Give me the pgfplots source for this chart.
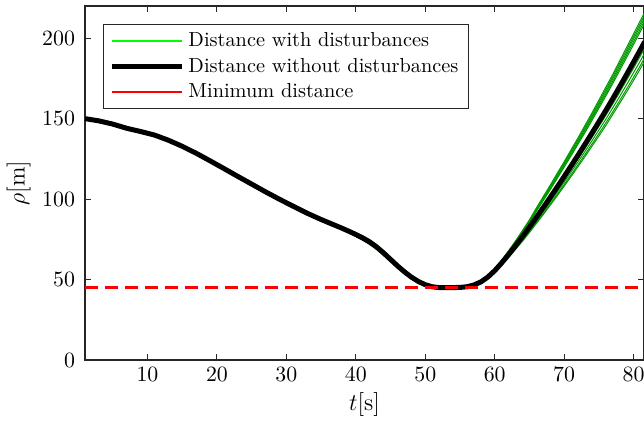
\documentclass[border=0pt]{standalone}
\usepackage{pgfplots}
\usepackage{pgfplotstable}
\pgfplotsset{compat=1.18}
\definecolor{axcol}{rgb}{0.15,0.15,0.15}
\definecolor{dgreen}{rgb}{0.0,0.6,0.0}
\definecolor{lgreen}{rgb}{0.0,1.0,0.0}
\pgfplotstableread{
t b A B C D E F G H I
1 150.0 150.0 150.0 150.0 150.0 150.0 150.0 150.0 150.0 150.0
3 148.6 148.6 148.6 148.6 148.6 148.6 148.6 148.6 148.6 148.6
5 146.6 146.6 146.6 146.6 146.6 146.6 146.6 146.6 146.6 146.6
7 144.0 144.0 144.0 144.0 144.0 144.0 144.0 144.0 144.0 144.0
9 142.0 142.0 142.0 142.0 142.0 142.0 142.0 142.0 142.0 142.0
11 139.8 139.8 139.8 139.8 139.8 139.8 139.8 139.8 139.8 139.8
13 136.6 136.6 136.6 136.6 136.6 136.6 136.6 136.6 136.6 136.6
15 132.8 132.8 132.8 132.8 132.8 132.8 132.8 132.8 132.8 132.8
17 128.5 128.5 128.5 128.5 128.5 128.5 128.5 128.5 128.5 128.5
19 123.8 123.8 123.8 123.8 123.8 123.8 123.8 123.8 123.8 123.8
21 119.0 119.0 119.0 119.0 119.0 119.0 119.0 119.0 119.0 119.0
23 114.1 114.1 114.1 114.1 114.1 114.1 114.1 114.1 114.1 114.1
25 109.3 109.3 109.3 109.3 109.3 109.3 109.3 109.3 109.3 109.3
27 104.5 104.5 104.5 104.5 104.5 104.5 104.5 104.5 104.5 104.5
29 99.9 99.9 99.9 99.9 99.9 99.9 99.9 99.9 99.9 99.9
31 95.5 95.5 95.5 95.5 95.5 95.5 95.5 95.5 95.5 95.5
33 91.2 91.2 91.2 91.2 91.2 91.2 91.2 91.2 91.2 91.2
35 87.3 87.3 87.3 87.3 87.3 87.3 87.3 87.3 87.3 87.3
37 83.7 83.7 83.7 83.7 83.7 83.7 83.7 83.7 83.7 83.7
38 81.9 82.4 81.9 81.9 81.9 81.9 81.9 81.9 81.9 81.4
39 80.0 80.8 80.0 80.0 80.0 80.0 80.0 80.0 80.0 79.2
40 78.0 79.2 78.0 78.0 78.0 78.0 78.0 78.0 78.0 76.8
41 75.8 77.2 75.8 75.8 75.8 75.8 75.8 75.8 75.8 74.4
42 73.3 74.8 73.3 73.3 73.3 73.3 73.3 73.3 73.3 71.8
43 70.2 71.7 70.2 70.2 70.2 70.2 70.2 70.2 70.2 68.7
44 66.5 68.0 66.5 66.5 66.5 66.5 66.5 66.5 66.5 65.0
45 62.5 63.9 62.5 62.5 62.5 62.5 62.5 62.5 62.5 61.1
46 58.5 59.7 58.5 58.5 58.5 58.5 58.5 58.5 58.5 57.3
47 54.8 55.8 54.8 54.8 54.8 54.8 54.8 54.8 54.8 53.8
48 51.5 52.3 51.5 51.5 51.5 51.5 51.5 51.5 51.5 50.7
49 48.8 49.4 48.8 48.8 48.8 48.8 48.8 48.8 48.8 48.2
50 46.8 47.1 46.8 46.8 46.8 46.8 46.8 46.8 46.8 46.5
51 45.5 45.5 45.5 45.5 45.5 45.5 45.5 45.5 45.5 45.5
52 45.0 45.0 45.0 45.0 45.0 45.0 45.0 45.0 45.0 45.0
53 45.0 45.0 45.0 45.0 45.0 45.0 45.0 45.0 45.0 45.0
54 45.0 45.0 45.0 45.0 45.0 45.0 45.0 45.0 45.0 45.0
55 45.1 45.1 45.1 45.1 45.1 45.1 45.1 45.1 45.1 45.1
56 45.5 45.5 45.5 45.5 45.5 45.5 45.5 45.5 45.5 45.5
57 46.6 46.6 46.6 46.6 46.6 46.6 46.6 46.6 46.6 46.6
58 48.5 48.5 48.5 48.5 48.5 48.5 48.5 48.5 48.5 48.5
59 51.5 51.9 51.9 51.8 51.8 51.7 51.4 51.3 51.2 51.1
60 55.5 56.6 56.5 56.4 56.3 56.2 55.2 55.0 54.8 54.7
61 60.3 62.0 61.9 61.7 61.5 61.4 59.9 59.5 59.2 59.0
62 65.5 67.9 67.7 67.5 67.2 67.0 64.9 64.5 64.0 63.7
63 71.0 74.0 73.7 73.4 73.1 72.8 70.2 69.7 69.1 68.7
64 76.7 80.5 80.1 79.7 79.4 79.0 75.7 75.0 74.3 73.8
65 82.6 87.1 86.6 86.2 85.8 85.3 81.5 80.6 79.8 79.2
66 88.6 94.5 93.9 93.3 92.7 92.3 87.3 86.4 85.4 84.8
67 94.8 101.6 100.9 100.3 99.6 99.1 93.3 92.2 91.1 90.4
68 101.1 108.7 107.9 107.2 106.5 105.8 99.5 98.2 97.0 96.2
69 107.5 116.0 115.2 114.4 113.6 112.8 105.7 104.3 102.9 102.0
70 114.0 123.2 122.4 121.5 120.7 119.8 112.0 110.5 109.0 108.0
71 120.6 130.7 129.8 128.9 127.8 126.9 118.4 116.8 115.1 114.0
72 127.3 138.1 137.1 136.0 135.0 134.1 124.9 123.2 121.4 120.2
73 134.1 145.8 144.7 143.5 142.5 141.3 131.5 129.6 127.7 126.4
74 141.0 153.5 152.3 151.1 150.0 148.8 138.3 136.2 134.2 132.8
75 148.0 161.5 160.2 158.9 157.7 156.4 145.1 142.9 140.7 139.2
76 155.1 169.5 168.1 166.7 165.3 164.0 152.0 149.6 147.3 145.7
77 162.4 177.5 176.1 174.7 173.2 171.8 159.1 156.7 154.2 152.6
78 169.9 185.9 184.4 182.9 181.4 179.9 166.4 163.8 161.2 159.5
79 177.5 194.3 192.7 191.1 189.6 188.0 173.9 171.1 168.4 166.6
80 185.2 202.7 201.1 199.5 197.7 196.1 181.4 178.6 175.7 173.8
81 193.0 211.1 209.3 207.7 206.0 204.3 189.1 186.1 183.2 181.2
81.6 197.8 216.2 214.5 212.8 211.0 209.3 193.8 190.8 187.8 185.8
}\datatable
\begin{document}
\begin{tikzpicture}[trim axis right]
\begin{axis}[
  scale only axis,
  width=279.5bp, height=177bp,
  xmin=1, xmax=81.5, ymin=0, ymax=220,
  xtick={10,20,...,80}, ytick={0,50,...,200},
  tick align=inside,
  major tick length=3bp,
  axis line style={axcol, line width=0.6bp},
  tick style={axcol, line width=0.5bp},
  font=\fontsize{11}{13}\selectfont,
  ticklabel style={font=\fontsize{11}{13}\selectfont},
  yticklabel style={xshift=-1.5bp},
  xlabel={$t[\mathrm{s}]$},
  ylabel={$\rho[\mathrm{m}]$},
  xlabel style={font=\fontsize{12}{14}\selectfont, yshift=1bp},
  ylabel style={font=\fontsize{12}{14}\selectfont, yshift=-1bp},
  legend style={at={(0,1)}, anchor=north west, xshift=9bp, yshift=-9bp,
    draw=axcol, line width=0.5bp, font=\fontsize{10.2}{12.5}\selectfont,
    row sep=0.2bp, inner xsep=3bp, inner ysep=2bp},
  legend cell align=left,
  legend image code/.code={\draw[#1] (0bp,0bp) -- (35bp,0bp);},
  clip=true,
]
\addplot[dgreen, line width=0.5bp, legend image post style={draw=lgreen, line width=0.6bp}] table[x=t, y=A] {\datatable};
\addlegendentry{Distance with disturbances}
\addplot[dgreen, line width=0.5bp, forget plot] table[x=t, y=B] {\datatable};
\addplot[dgreen, line width=0.5bp, forget plot] table[x=t, y=C] {\datatable};
\addplot[dgreen, line width=0.5bp, forget plot] table[x=t, y=D] {\datatable};
\addplot[dgreen, line width=0.5bp, forget plot] table[x=t, y=E] {\datatable};
\addplot[dgreen, line width=0.5bp, forget plot] table[x=t, y=F] {\datatable};
\addplot[dgreen, line width=0.5bp, forget plot] table[x=t, y=G] {\datatable};
\addplot[dgreen, line width=0.5bp, forget plot] table[x=t, y=H] {\datatable};
\addplot[dgreen, line width=0.5bp, forget plot] table[x=t, y=I] {\datatable};
\addplot[black, line width=2.5bp] table[x=t, y=b] {\datatable};
\addlegendentry{Distance without disturbances}
\addplot[red, line width=1.5bp, dash pattern=on 6.5bp off 3.5bp, legend image post style={solid, line width=0.6bp}] coordinates {(1,45) (81.5,45)};
\addlegendentry{Minimum distance}
\end{axis}
\path ([yshift=3bp]current axis.north);
\end{tikzpicture}
\end{document}
